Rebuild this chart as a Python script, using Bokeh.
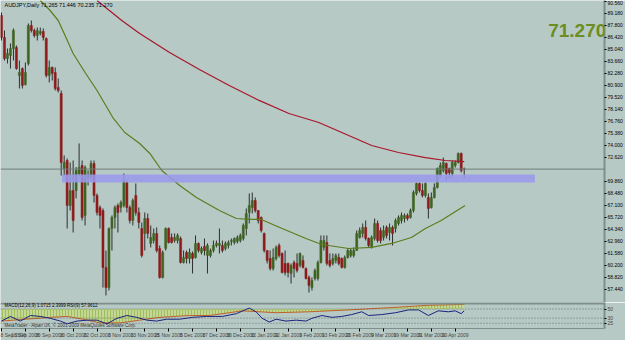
from bokeh.plotting import figure
from bokeh.models import (Range1d, LinearAxis, FixedTicker, ColumnDataSource, Label,
                          BoxAnnotation, Span, PrintfTickFormatter)
from bokeh.layouts import column
from bokeh.embed import file_html
from bokeh.resources import INLINE

# ---------------- data ----------------
symbol_title = "AUDJPY,Daily  71.265 71.446 70.235 71.270"
last_price = 71.27

open_ = [88.94, 86.40, 83.99, 84.34, 85.14, 85.26, 82.04, 82.84, 81.00, 83.42,
         87.79, 87.21, 86.64, 86.87, 87.10, 86.29, 82.04, 82.96, 82.38, 80.66,
         79.97, 71.34, 72.26, 67.09, 68.81, 68.81, 70.76, 71.69, 65.94, 70.53,
         70.30, 71.92, 68.24, 66.86, 66.51, 59.96, 57.65, 64.44, 65.70, 67.09,
         66.86, 67.09, 69.73, 66.86, 65.36, 68.24, 66.28, 64.44, 63.87, 65.59,
         62.72, 63.06, 63.87, 62.14, 58.81, 62.14, 64.44, 63.41, 63.06, 63.06,
         63.29, 60.53, 61.68, 60.99, 61.57, 61.11, 62.72, 61.68, 62.37, 61.34,
         61.34, 61.91, 62.49, 62.49, 62.49, 62.14, 62.49, 62.95, 62.83, 62.95,
         63.06, 63.29, 64.44, 66.28, 66.86, 67.66, 66.51, 65.70, 63.87, 61.91,
         60.99, 59.84, 60.99, 62.49, 61.57, 60.42, 60.42, 59.27, 60.53, 60.42,
         60.19, 60.76, 59.84, 58.81, 57.65, 58.69, 58.69, 60.53, 62.26, 62.83,
         60.76, 60.42, 60.76, 61.11, 60.99, 59.96, 61.11, 61.34, 61.34, 61.91,
         63.41, 63.87, 64.56, 63.29, 62.26, 63.29, 65.02, 64.21, 63.41, 64.56,
         63.98, 64.56, 64.44, 65.02, 65.36, 65.59, 65.94, 65.70, 66.51, 68.47,
         69.62, 68.81, 68.24, 68.01, 66.86, 68.01, 69.16, 70.53, 71.11, 71.92,
         71.34, 70.76, 71.69, 72.03, 73.07, 71.265]
high = [89.28, 87.21, 85.14, 85.72, 87.44, 85.49, 83.76, 82.96, 83.53, 88.02,
        88.36, 87.44, 87.55, 87.55, 87.44, 86.40, 83.76, 83.07, 82.96, 81.69,
        80.31, 72.84, 72.49, 72.03, 72.26, 71.50, 74.22, 72.26, 71.69, 71.11,
        72.26, 72.26, 68.47, 67.09, 66.74, 61.91, 64.56, 65.94, 67.09, 67.32,
        67.66, 70.76, 69.96, 67.09, 67.89, 69.62, 66.86, 65.13, 66.28, 66.17,
        64.79, 64.44, 64.56, 62.49, 61.91, 64.56, 64.56, 63.87, 63.87, 63.87,
        63.52, 61.91, 61.91, 62.14, 61.80, 63.64, 62.83, 62.37, 63.29, 62.72,
        62.14, 63.06, 63.06, 64.44, 63.06, 62.95, 63.06, 63.29, 63.41, 63.64,
        63.87, 65.02, 66.74, 68.47, 68.58, 68.01, 66.51, 65.82, 63.98, 61.91,
        61.91, 62.14, 62.49, 62.72, 61.68, 61.91, 60.53, 60.42, 60.76, 61.57,
        61.68, 61.34, 59.96, 59.04, 58.81, 59.84, 60.76, 63.64, 63.64, 63.64,
        61.57, 61.57, 61.57, 61.57, 61.11, 61.34, 62.14, 62.14, 62.26, 64.21,
        64.56, 65.02, 65.36, 63.41, 63.64, 65.59, 65.36, 64.56, 64.79, 64.79,
        65.02, 64.79, 65.59, 65.94, 66.28, 66.17, 66.17, 66.74, 68.81, 69.73,
        69.73, 69.62, 69.73, 68.47, 68.58, 69.62, 71.45, 72.03, 72.60, 72.03,
        71.45, 72.26, 72.26, 73.18, 73.18, 71.446]
low = [86.06, 83.76, 83.42, 82.84, 83.76, 82.70, 80.54, 80.54, 80.89, 83.19,
       86.98, 86.40, 86.06, 86.64, 86.06, 81.81, 81.23, 81.46, 80.31, 80.08,
       70.53, 70.53, 64.44, 66.51, 63.98, 67.90, 70.53, 65.36, 64.79, 69.39,
       69.96, 67.43, 65.94, 64.44, 57.65, 56.74, 57.31, 61.91, 64.44, 63.98,
       66.28, 66.86, 66.28, 65.02, 64.79, 65.94, 64.44, 61.11, 61.91, 63.29,
       62.26, 62.72, 61.68, 58.69, 58.69, 61.91, 62.72, 62.72, 62.83, 62.72,
       60.42, 60.42, 60.42, 60.42, 59.27, 60.99, 61.68, 61.45, 61.34, 59.27,
       61.11, 61.68, 62.26, 61.57, 61.68, 61.91, 62.14, 62.49, 62.60, 62.72,
       62.83, 63.06, 63.64, 65.02, 66.17, 66.28, 65.02, 63.98, 61.68, 60.42,
       59.61, 59.61, 60.76, 61.11, 59.27, 59.04, 58.81, 58.11, 58.81, 59.38,
       59.96, 59.84, 58.58, 57.08, 57.31, 58.46, 58.46, 60.42, 61.91, 60.19,
       59.96, 60.19, 60.42, 60.19, 59.84, 59.84, 60.99, 61.11, 61.11, 61.91,
       63.29, 63.41, 63.06, 62.26, 62.14, 63.06, 62.83, 62.72, 63.06, 63.29,
       63.06, 62.49, 63.98, 64.79, 65.02, 65.13, 65.36, 65.59, 66.28, 68.24,
       68.58, 68.01, 68.01, 65.59, 66.74, 67.89, 69.04, 70.30, 70.88, 69.96,
       70.19, 70.30, 71.45, 71.92, 70.88, 70.235]
close = [86.40, 83.99, 84.57, 85.14, 87.21, 82.84, 82.38, 80.89, 82.38, 87.79,
         87.21, 86.64, 87.21, 87.10, 86.40, 82.04, 82.96, 82.27, 80.54, 80.31,
         72.03, 72.03, 67.09, 68.81, 65.36, 71.11, 71.45, 65.70, 71.45, 70.19,
         71.92, 68.24, 66.28, 65.94, 59.96, 57.65, 64.44, 65.70, 66.86, 66.28,
         67.43, 69.96, 66.86, 65.36, 67.66, 66.28, 65.13, 61.34, 65.59, 63.87,
         63.41, 63.87, 61.91, 58.81, 61.68, 64.44, 62.83, 62.83, 63.41, 63.64,
         60.53, 61.11, 60.99, 61.68, 60.99, 62.72, 61.91, 62.14, 61.91, 62.49,
         61.91, 62.49, 62.72, 62.72, 61.91, 62.72, 62.83, 63.06, 63.29, 63.41,
         63.64, 64.79, 66.17, 67.09, 67.66, 66.51, 65.36, 64.21, 61.91, 60.76,
         59.84, 61.11, 62.26, 61.34, 59.38, 59.38, 59.38, 60.19, 59.84, 59.61,
         61.57, 59.96, 58.69, 57.89, 58.46, 59.61, 60.53, 63.06, 63.06, 60.42,
         60.19, 60.99, 61.34, 60.42, 59.96, 61.11, 61.91, 61.91, 61.91, 63.87,
         64.21, 64.56, 63.29, 62.49, 63.41, 65.02, 63.06, 63.06, 64.21, 63.64,
         64.56, 63.87, 65.36, 65.70, 65.94, 65.94, 65.59, 66.51, 68.58, 69.62,
         68.81, 68.24, 69.62, 66.74, 68.01, 69.16, 71.34, 71.69, 72.03, 70.76,
         70.88, 72.03, 72.03, 73.07, 71.11, 71.270]

# date tick labels (bar index -> label)
date_tick_index = [0, 8, 16, 24, 32, 40, 48, 56, 64, 72, 80, 88, 96, 104, 112, 120, 128, 136, 144, 152]
date_tick_labels = ["8 Sep 2008", "18 Sep 2008", "30 Sep 2008", "10 Oct 2008", "22 Oct 2008",
                    "3 Nov 2008", "13 Nov 2008", "25 Nov 2008", "5 Dec 2008", "17 Dec 2008",
                    "30 Dec 2008", "12 Jan 2009", "22 Jan 2009", "3 Feb 2009", "13 Feb 2009",
                    "25 Feb 2009", "9 Mar 2009", "19 Mar 2009", "31 Mar 2009", "10 Apr 2009"]

# price axis labels
price_ticks = [90.56, 89.18, 87.80, 86.42, 85.04, 83.66, 82.28, 80.90, 79.52, 78.14,
               76.76, 75.38, 74.00, 72.62, 69.86, 68.48, 67.10, 65.72, 64.34,
               62.96, 61.58, 60.20, 58.82, 57.44]

# moving averages (read as points)
ma_slow_x = [32, 40.3, 46.3, 56.3, 66.3, 76.3, 86.3, 96.3, 106.3, 116.3, 124, 133, 142, 148.7, 155]
ma_slow_y = [90.66, 88.36, 86.87, 84.68, 82.73, 80.89, 79.17, 77.66, 76.63, 75.13, 73.99, 73.18, 72.60, 72.26, 72.14]
ma_fast_x = [13, 16.3, 19, 21.3, 24, 28, 32, 37.3, 41.3, 46.3, 49.7, 53.7, 59.7, 65.3, 73,
             78.7, 83, 87, 94, 102, 107.3, 116.3, 124, 130.7, 137.3, 142, 147.3, 155.3]
ma_fast_y = [90.66, 89.51, 88.36, 86.64, 84.57, 82.38, 80.31, 77.20, 75.48, 74.22, 73.07, 71.11,
             69.39, 68.01, 66.51, 65.59, 65.48, 65.48, 64.44, 63.29, 62.60, 62.14, 62.26, 62.72,
             63.41, 64.44, 65.36, 67.09]

# support zone (drawn rectangle)
zone_start, zone_end = 20.3, 178.7
zone_low, zone_high = 69.73, 70.65

# indicator (sub window)
ind_line_x = [0, 3, 6.3, 9.7, 13, 16.3, 19.7, 22, 25.3, 28.7, 32, 35.3, 38.7, 42, 45.3, 48.7, 52,
              55.3, 59.7, 64, 68.7, 74, 78.7, 83, 85.3, 87.3, 89.7, 92, 95.3, 98.7, 102, 104,
              107.3, 110.7, 114, 117.3, 120.7, 123, 127.3, 132, 136.3, 139.7, 143, 146.3, 149.7,
              152, 154, 155]
ind_line_y = [28.6, 46.4, 28.6, 50, 46.4, 39.3, 28.6, 17.9, 28.6, 32.1, 32.1, 17.9, 39.3, 50, 42.9,
              32.1, 28.6, 35.7, 35.7, 42.9, 46.4, 46.4, 57.1, 78.6, 64.3, 39.3, 25, 35.7, 28.6,
              32.1, 28.6, 39.3, 50, 42.9, 46.4, 53.6, 64.3, 50, 53.6, 60.7, 71.4, 71.4, 50, 67.9,
              64.3, 67.9, 57.1, 67.9]
ind_sig_x = [0, 16.3, 22, 27.3, 33, 39.7, 46.3, 53, 63, 69.7, 80.7, 92, 103, 116.3, 133, 143, 155]
ind_sig_y = [28.6, 42.9, 46.4, 35.7, 21.4, 21.4, 32.1, 42.9, 50, 50, 67.9, 60.7, 64.3, 71.4, 82.1, 89.3, 92.9]
ind_level_top = 75

# ---------------- styling ----------------
BG = "#b7c9c5"
BULL = "#3f6421"
BEAR = "#8e1b1b"
WICK = "#2e2e2e"
FONT = "Liberation Sans"

n = len(close)
idx = list(range(n))
bull = [c >= o for o, c in zip(open_, close)]
src = ColumnDataSource(dict(
    x=idx, o=open_, h=high, l=low, c=close,
    top=[max(o, c) for o, c in zip(open_, close)],
    bot=[min(o, c) for o, c in zip(open_, close)],
    col=[BULL if b else BEAR for b in bull],
))

x_rng = Range1d(-0.33, 202)
p = figure(width=625, height=302, x_range=x_rng, y_range=Range1d(55.93, 90.66),
           output_backend="svg", toolbar_location=None,
           x_axis_location=None, y_axis_location=None,
           min_border_left=0, min_border_top=0, min_border_bottom=0, min_border_right=17,
           background_fill_color=BG, border_fill_color=BG, outline_line_color=None)
p.grid.visible = False

ax = LinearAxis(ticker=FixedTicker(ticks=price_ticks), formatter=PrintfTickFormatter(format="%.3f"))
ax.axis_line_color = "#7f8f8c"
ax.axis_line_width = 2
ax.major_tick_out = 2
ax.major_tick_in = 0
ax.major_tick_line_color = "#000000"
ax.minor_tick_line_color = None
ax.major_label_standoff = 1
ax.major_label_text_font_size = "5px"
ax.major_label_text_font = FONT
ax.major_label_text_color = "#000000"
p.add_layout(ax, "right")

p.add_layout(Span(location=last_price, dimension="width", line_color="#707c7a", line_width=1))

p.segment(x0="x", y0="h", x1="x", y1="l", source=src, line_color=WICK, line_width=1)
p.vbar(x="x", top="top", bottom="bot", width=0.7, source=src, fill_color="col", line_color="col", line_width=0.5)

p.add_layout(BoxAnnotation(left=zone_start, right=zone_end, bottom=zone_low, top=zone_high,
                           fill_color="#9a9aea", fill_alpha=0.88, line_color=None))

p.line(ma_slow_x, ma_slow_y, line_color="#a8162a", line_width=1.2)
p.line(ma_fast_x, ma_fast_y, line_color="#5d7d1f", line_width=1.2)

p.add_layout(Label(x=1, y=90.5, text=symbol_title, text_font=FONT, text_font_size="5.5px",
                   text_color="#000000", text_baseline="top"))
p.add_layout(Label(x=202.6, y=86.5, text="71.270", text_font=FONT, text_font_size="19px",
                   text_font_style="bold", text_color="#6b8e23", text_align="right"))
p.add_layout(Label(x=202.6, y=last_price, text="71.270", text_font=FONT, text_font_size="5px",
                   text_color="#ffffff", background_fill_color="#000000", text_baseline="middle",
                   padding=1))

# ---------------- indicator window ----------------
q = figure(width=625, height=38, x_range=x_rng, y_range=Range1d(0, 100),
           output_backend="svg", toolbar_location=None,
           x_axis_location="below", y_axis_location=None,
           min_border_left=0, min_border_top=0, min_border_bottom=0, min_border_right=17,
           background_fill_color=BG, border_fill_color=BG, outline_line_color=None)
q.grid.visible = False
q.add_layout(Span(location=100, dimension="width", line_color="#7f8f8c", line_width=4))

q.varea(x=ind_sig_x, y1=[ind_level_top] * len(ind_sig_x), y2=ind_sig_y,
        fill_color="#c9d98a", fill_alpha=0.8, hatch_pattern="vertical_line",
        hatch_color="#9bbf5a", hatch_scale=3)
q.line(ind_sig_x, ind_sig_y, line_color="#c0602a", line_width=1)
q.line(ind_line_x, ind_line_y, line_color="#1a237e", line_width=1)
for lv in [75, 40, 20]:
    q.add_layout(Span(location=lv, dimension="width", line_color="#333333", line_width=0.6, line_dash="1 2"))

qa = LinearAxis(ticker=FixedTicker(ticks=[75, 40, 20]))
qa.major_label_overrides = {75: "50", 40: "30", 20: "25"}
qa.axis_line_color = "#7f8f8c"
qa.axis_line_width = 2
qa.major_tick_out = 2
qa.major_tick_in = 0
qa.minor_tick_line_color = None
qa.major_label_standoff = 1
qa.major_label_text_font_size = "5px"
qa.major_label_text_font = FONT
q.add_layout(qa, "right")

xa = q.xaxis[0]
xa.ticker = FixedTicker(ticks=date_tick_index)
xa.major_label_overrides = {k: v for k, v in zip(date_tick_index, date_tick_labels)}
xa.major_label_text_font_size = "5px"
xa.major_label_text_font = FONT
xa.major_label_text_align = "left"
xa.major_label_standoff = 0
xa.major_tick_out = 3
xa.major_tick_in = 0
xa.minor_tick_line_color = None
xa.axis_line_color = "#7f8f8c"

q.add_layout(Label(x=1, y=97, text="MACD(12,26,9) 1.0715 2.3999 RSI(9) 57.9612", text_font=FONT,
                   text_font_size="4.5px", text_color="#000000", text_baseline="top"))
q.add_layout(Label(x=1, y=2, text="MetaTrader - Alpari UK, \u00a9 2001-2009 MetaQuotes Software Corp.",
                   text_font=FONT, text_font_size="4.5px", text_color="#333333"))

layout = column(p, q, spacing=0)
open("out.html", "w").write(file_html(layout, INLINE))
